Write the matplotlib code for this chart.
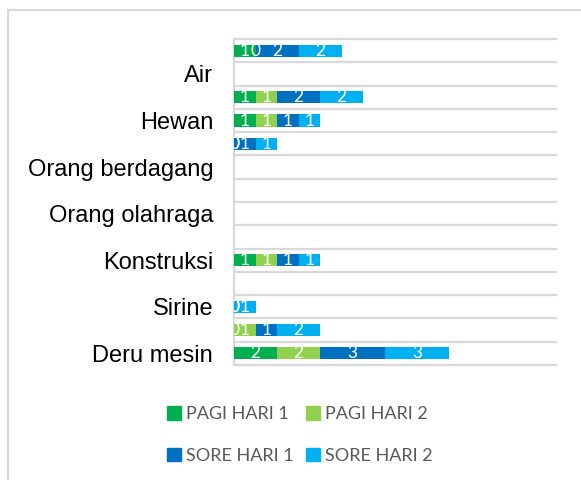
import matplotlib.pyplot as plt
from matplotlib.patches import Patch, Rectangle
import numpy as np

# Categories from top to bottom (Excel skipped every other label)
categories = ["", "Air", "", "Hewan", "", "Orang berdagang", "", "Orang olahraga",
              "", "Konstruksi", "", "Sirine", "", "Deru mesin"]
series_names = ["PAGI HARI 1", "PAGI HARI 2", "SORE HARI 1", "SORE HARI 2"]
pagi_1 = [1, 0, 1, 1, 0, 0, 0, 0, 0, 1, 0, 0, 0, 2]
pagi_2 = [0, 0, 1, 1, 0, 0, 0, 0, 0, 1, 0, 0, 1, 2]
sore_1 = [2, 0, 2, 1, 1, 0, 0, 0, 0, 1, 0, 0, 1, 3]
sore_2 = [2, 0, 2, 1, 1, 0, 0, 0, 0, 1, 0, 1, 2, 3]
# rows whose zero values got a label in the original
zero_labelled = [0, 4, 11, 12]

colors = ["#00B050", "#92D050", "#0070C0", "#00B0F0"]

fig = plt.figure(figsize=(5.81, 4.80), dpi=100)
ax = fig.add_axes([234 / 581, 1 - 365 / 480, (557 - 234) / 581, (365 - 39) / 480])

# Outer chart border (only top and left visible in the crop)
fig.patches.append(Rectangle((8 / 581, -0.1), 1.2, 1 - 9.5 / 480 + 0.1,
                             transform=fig.transFigure, fill=False,
                             edgecolor="#D9D9D9", linewidth=1.5))

y = np.arange(len(categories))
left = np.zeros(len(categories))
series = [pagi_1, pagi_2, sore_1, sore_2]
handles = []
for name, vals, c in zip(series_names, series, colors):
    vals = np.array(vals, dtype=float)
    ax.barh(y, vals, left=left, height=0.52, color=c, label=name, zorder=3)
    handles.append(Patch(color=c))
    for i, v in enumerate(vals):
        if v > 0 or i in zero_labelled:
            ax.text(left[i] + v / 2, i, f"{v:.0f}", color="white", fontsize=12.5,
                    family="Lato", ha="center", va="center", zorder=4, clip_on=True)
    left += vals

ax.set_xlim(0, 15)
ax.set_ylim(len(categories) - 0.5, -0.5)

# Category gridlines between rows
ax.hlines(np.arange(-0.5, len(categories)), 0, 15, color="#D9D9D9", linewidth=1.6,
          zorder=1, clip_on=False)

ax.set_yticks(y)
ax.set_yticklabels(categories, family="Liberation Sans", fontsize=17)
ax.tick_params(axis="y", length=0, pad=15)
ax.set_xticks([])
for s in ["top", "right", "bottom"]:
    ax.spines[s].set_visible(False)
ax.spines["left"].set_color("#D9D9D9")
ax.spines["left"].set_linewidth(1.6)

# legend fills column-wise, so reorder to get PAGI on the first row
order = [0, 2, 1, 3]
fig.legend([handles[k] for k in order], [series_names[k] for k in order],
           ncol=2, loc="center", bbox_to_anchor=(300 / 581, 1 - 435 / 480),
           frameon=False, prop={"family": "Lato", "size": 13}, labelcolor="#595959",
           handlelength=0.75, handleheight=0.75, handletextpad=0.3,
           columnspacing=0.7, labelspacing=1.4)

fig.savefig("out.png", dpi=100)
